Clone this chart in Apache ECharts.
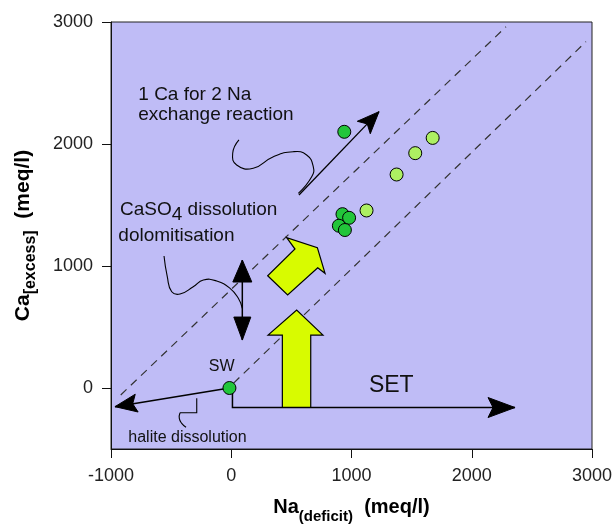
<!DOCTYPE html>
<html><head><meta charset="utf-8">
<script src="https://cdn.jsdelivr.net/npm/echarts@6/dist/echarts.min.js"></script>
<style>html,body{margin:0;padding:0;background:#fff}#c{width:616px;height:524px}</style>
</head><body><div id="c"></div>
<script>
// ---- data (Na deficit, Ca excess in meq/l) ----
const xTicks = [-1000, 0, 1000, 2000, 3000];
const yTicks = [0, 1000, 2000, 3000];
const seawater = [[-15, 0]];
const darkGreenPoints = [[940, 2100], [925, 1425], [980, 1395], [895, 1330], [945, 1295]];
const lightGreenPoints = [[1125, 1455], [1375, 1750], [1530, 1925], [1675, 2050]];
const upperTrend = [[-919, -57], [2285, 2961]];
const lowerTrend = [[20, 40], [2950, 2839]];
// annotation geometry, in data units
const exchangeArrow = [[563, 1582], [1229, 2265]];
const exchangeCurve = [[64, 2033], [12, 1924], [45, 1828], [183, 1801], [350, 1896], [516, 1937], [627, 1910], [682, 1814], [669, 1732], [558, 1596]];
const dissolutionArrow = [[92, 393], [92, 1049]];
const dissolutionCurve = [[-559, 1082], [-532, 912], [-495, 789], [-426, 770], [-316, 830], [-232, 885], [-121, 877], [-10, 817], [59, 735], [92, 653]];
const haliteArrow = [[-15, 0], [-967, -153]];
const haliteBracket = [[-287, -85], [-287, -203], [-426, -203]];
const haliteCurl = [[-426, -203], [-432, -249], [-412, -290], [-376, -322]];
const setArrow = [[10, -25], [10, -160], [2360, -160]];
const yellowUpArrow = [[425, -160], [661, -160], [661, 434], [763, 434], [544, 639], [306, 434], [425, 434]];
const yellowTiltArrow = [[303, 920], [469, 762], [719, 986], [780, 940], [716, 1150], [461, 1232], [530, 1139]];
const labelExchange1 = ['1 Ca for 2 Na', -773, 2402];
const labelExchange2 = ['exchange reaction', -773, 2238];
const labelDissolution1 = ['{a|CaSO}{b|4}{a| dissolution}', -925, 1459];
const labelDissolution2 = ['dolomitisation', -939, 1247];
const labelSW = ['SW', -79, 178];
const labelSET = ['SET', 1331, 19];
const labelHalite = ['halite dissolution', -856, -406];

const FONT = '"Liberation Sans", Arial, sans-serif';
const chart = echarts.init(document.getElementById('c'), null, {renderer: 'canvas'});

function renderAnnotations(params, api) {
  const P = p => api.coord(p);
  const kids = [];
  function line(pts, smooth, w) {
    kids.push({type: 'polyline', shape: {points: pts.map(P), smooth: smooth || 0},
      style: {stroke: '#000', lineWidth: w || 1.2, fill: null}});
  }
  function head(tipD, fromD, len, wid, notch) {
    const t = P(tipD), f = P(fromD);
    const dx = t[0] - f[0], dy = t[1] - f[1], d = Math.hypot(dx, dy);
    const ux = dx / d, uy = dy / d, nx = -uy, ny = ux;
    const bx = t[0] - ux * len, by = t[1] - uy * len;
    kids.push({type: 'polygon', shape: {points: [t, [bx + nx * wid / 2, by + ny * wid / 2],
      [t[0] - ux * (len - notch), t[1] - uy * (len - notch)], [bx - nx * wid / 2, by - ny * wid / 2]]},
      style: {fill: '#000', stroke: '#000', lineWidth: 1}});
  }
  function text(lab, size, align, rich) {
    const p = P([lab[1], lab[2]]);
    kids.push({type: 'text', x: p[0], y: p[1], style: {text: lab[0], fontSize: size, fontFamily: FONT,
      fill: '#111', align: align, verticalAlign: 'middle', rich: rich}});
  }
  // yellow block arrows
  [yellowUpArrow, yellowTiltArrow].forEach(poly => kids.push({type: 'polygon',
    shape: {points: poly.map(P)}, style: {fill: '#d8fb00', stroke: '#000', lineWidth: 1.2}}));
  // exchange arrow
  line(exchangeArrow, 0, 1.3); head(exchangeArrow[1], exchangeArrow[0], 22, 18, 5);
  line(exchangeCurve, 0.5, 1.1);
  // dissolution double arrow
  line(dissolutionArrow, 0, 1.5);
  head(dissolutionArrow[1], dissolutionArrow[0], 22, 19, 0);
  head(dissolutionArrow[0], dissolutionArrow[1], 23, 17, 0);
  line(dissolutionCurve, 0.5, 1.1);
  // halite arrow
  line(haliteArrow, 0, 1.5); head(haliteArrow[1], haliteArrow[0], 22, 18, 4);
  line(haliteBracket, 0, 1.1); line(haliteCurl, 0.5, 1.1);
  // SET arrow
  line(setArrow, 0, 1.5); head(setArrow[2], setArrow[1], 27, 20, 5);
  // labels
  text(labelExchange1, 19, 'left');
  text(labelExchange2, 19, 'left');
  text(labelDissolution1, 19, 'left', {a: {fontSize: 19, fontFamily: FONT, color: '#111'},
    b: {fontSize: 19, fontFamily: FONT, color: '#111', padding: [10, 0, 0, 0]}});
  text(labelDissolution2, 19, 'left');
  text(labelSW, 16, 'center');
  text(labelSET, 23, 'center');
  text(labelHalite, 16, 'left');
  return {type: 'group', children: kids};
}

const plain = v => String(v);
const option = {
  animation: false,
  grid: {left: 111, right: 24, top: 22, bottom: 75, show: true, backgroundColor: '#bfbcf6',
    borderColor: '#222', borderWidth: 1, containLabel: false, outerBoundsMode: 'none'},
  xAxis: {
    type: 'value', min: -1000, max: 3000,
    axisLine: {show: true, onZero: false, lineStyle: {color: '#111', width: 1}},
    axisTick: {show: true, length: 9, customValues: xTicks, lineStyle: {color: '#111'}},
    axisLabel: {customValues: xTicks, formatter: plain, fontSize: 18, fontFamily: FONT, color: '#222', margin: 18},
    splitLine: {show: false},
    name: '{a|Na}{b|(deficit)}{a|  (meq/l)}', nameLocation: 'middle', nameGap: 42,
    nameTextStyle: {rich: {a: {fontSize: 20, fontWeight: 'bold', fontFamily: FONT, color: '#000'},
      b: {fontSize: 15, fontWeight: 'bold', fontFamily: FONT, color: '#000', padding: [18, 0, 0, 0]}}}
  },
  yAxis: {
    type: 'value', min: -500, max: 3000,
    axisLine: {show: true, onZero: false, lineStyle: {color: '#111', width: 1}},
    axisTick: {show: true, length: 9, customValues: yTicks, lineStyle: {color: '#111'}},
    axisLabel: {customValues: yTicks, formatter: plain, fontSize: 18, fontFamily: FONT, color: '#222', margin: 18},
    splitLine: {show: false},
    name: '{a|Ca}{b|[excess]}{a|  (meq/l)}', nameLocation: 'middle', nameRotate: 90, nameGap: 72,
    nameTextStyle: {rich: {a: {fontSize: 21, fontWeight: 'bold', fontFamily: FONT, color: '#000'},
      b: {fontSize: 16, fontWeight: 'bold', fontFamily: FONT, color: '#000', padding: [16, 0, 0, 0]}}}
  },
  series: [
    {type: 'line', data: upperTrend, symbol: 'none', silent: true, z: 1,
      lineStyle: {color: '#333', width: 1.2, type: [8, 6]}},
    {type: 'line', data: lowerTrend, symbol: 'none', silent: true, z: 1,
      lineStyle: {color: '#333', width: 1.2, type: [8, 6]}},
    {type: 'custom', data: [0], renderItem: renderAnnotations, z: 2, silent: true},
    {type: 'scatter', data: darkGreenPoints, symbolSize: 13, z: 3,
      itemStyle: {color: '#22c53a', borderColor: '#000', borderWidth: 1, opacity: 1}},
    {type: 'scatter', data: lightGreenPoints, symbolSize: 13, z: 3,
      itemStyle: {color: '#adf062', borderColor: '#000', borderWidth: 1, opacity: 1}},
    {type: 'scatter', data: seawater, symbolSize: 13, z: 3,
      itemStyle: {color: '#22c53a', borderColor: '#000', borderWidth: 1, opacity: 1}}
  ]
};
chart.setOption(option);
</script></body></html>
